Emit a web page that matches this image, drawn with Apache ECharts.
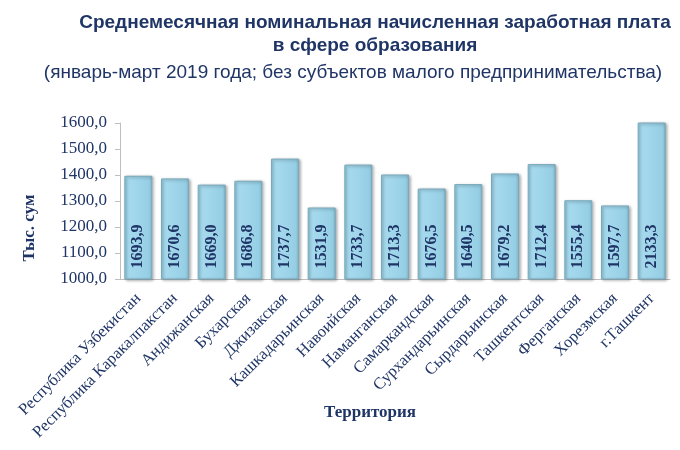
<!DOCTYPE html>
<html lang="ru">
<head>
    <meta charset="utf-8">
    <title>Среднемесячная заработная плата в сфере образования</title>
    <style>
        * {
  margin: 0;
  padding: 0;
}
#chart-container {
  position: relative;
  width: 680px;
  height: 450px;
  overflow: hidden;
  background: #fff;
}
    </style>
</head>
<body>
<div id="chart-container"></div>
<script src="https://fastly.jsdelivr.net/npm/echarts@6/dist/echarts.min.js"></script>
<script>
// territories
let regions = [
  'Республика Узбекистан', 'Республика Каракалпакстан', 'Андижанская', 'Бухарская',
  'Джизакская', 'Кашкадарьинская', 'Навоийская', 'Наманганская', 'Самаркандская',
  'Сурхандарьинская', 'Сырдарьинская', 'Ташкентская', 'Ферганская', 'Хорезмская', 'г.Ташкент'
];
// bar heights as drawn in the picture (they do not follow the printed values)
let barHeights = [1397, 1387, 1363, 1378, 1463, 1275, 1440, 1402, 1348, 1365, 1406, 1442, 1303, 1283, 2133.3];
// printed values, тыс. сум
let wageLabels = [1693.9, 1670.6, 1669.0, 1686.8, 1737.7, 1531.9, 1733.7, 1713.3, 1676.5, 1640.5, 1679.2, 1712.4, 1555.4, 1597.7, 2133.3];

let navy = '#1f3566';
let serif = '"Liberation Serif", "Times New Roman", serif';
let sans = '"Liberation Sans", Arial, sans-serif';

function comma(v) {
  return v.toFixed(1).replace('.', ',');
}

var dom = document.getElementById('chart-container');
var myChart = echarts.init(dom, null, {
  renderer: 'canvas',
  useDirtyRect: false
});

var option = {
  animation: false,
  title: [
    {
      text: 'Среднемесячная номинальная начисленная заработная плата\nв сфере образования',
      left: 370,
      top: 6,
      textAlign: 'center',
      textStyle: {
        color: navy,
        fontFamily: sans,
        fontSize: 19,
        fontWeight: 'bold',
        lineHeight: 23
      }
    },
    {
      text: '(январь-март 2019 года; без субъектов малого предпринимательства)',
      left: 348,
      top: 58,
      textAlign: 'center',
      textStyle: {
        color: navy,
        fontFamily: sans,
        fontSize: 19,
        fontWeight: 'normal'
      }
    }
  ],
  graphic: [
    {
      type: 'text',
      x: 30,
      y: 228,
      rotation: Math.PI / 2,
      style: {
        text: 'Тыс. сум',
        fill: navy,
        font: 'bold 17px ' + serif,
        textAlign: 'center',
        textVerticalAlign: 'middle'
      }
    },
    {
      type: 'text',
      x: 370,
      y: 413,
      style: {
        text: 'Территория',
        fill: navy,
        font: 'bold 17px ' + serif,
        textAlign: 'center',
        textVerticalAlign: 'middle'
      }
    }
  ],
  grid: {
    left: 120,
    right: 10,
    top: 123,
    bottom: 171
  },
  xAxis: {
    type: 'category',
    data: regions,
    axisLine: { lineStyle: { color: '#bfbfbf' } },
    axisTick: { length: 5, lineStyle: { color: '#bfbfbf' } },
    axisLabel: {
      interval: 0,
      rotate: 45,
      margin: 17,
      color: navy,
      fontFamily: serif,
      fontSize: 16.5
    }
  },
  yAxis: {
    type: 'value',
    min: 1000,
    max: 1600,
    interval: 100,
    splitLine: { show: false },
    axisLine: { show: true, lineStyle: { color: '#bfbfbf' } },
    axisTick: { show: true, length: 5, lineStyle: { color: '#bfbfbf' } },
    axisLabel: {
      margin: 13,
      color: navy,
      fontFamily: serif,
      fontSize: 17,
      formatter: function (v) { return comma(v); }
    }
  },
  series: [
    {
      type: 'bar',
      data: barHeights,
      barWidth: 28,
      clip: true,
      itemStyle: {
        color: new echarts.graphic.LinearGradient(0, 0, 1, 0, [
          { offset: 0, color: '#88c6dc' },
          { offset: 0.12, color: '#a6daee' },
          { offset: 0.5, color: '#9fd5ea' },
          { offset: 0.88, color: '#95cee4' },
          { offset: 1, color: '#80b8ce' }
        ]),
        borderColor: '#7aa9bb',
        borderWidth: 1,
        shadowColor: 'rgba(0,0,0,0.35)',
        shadowBlur: 3,
        shadowOffsetX: 1.5,
        shadowOffsetY: 1
      },
      label: {
        show: true,
        position: 'insideBottom',
        distance: 11,
        rotate: 90,
        align: 'left',
        verticalAlign: 'middle',
        color: navy,
        fontFamily: serif,
        fontSize: 16,
        fontWeight: 'bold',
        formatter: function (p) { return comma(wageLabels[p.dataIndex]); }
      }
    }
  ]
};

if (option && typeof option === 'object') {
  myChart.setOption(option);
}

window.addEventListener('resize', myChart.resize);
</script>
</body>
</html>
